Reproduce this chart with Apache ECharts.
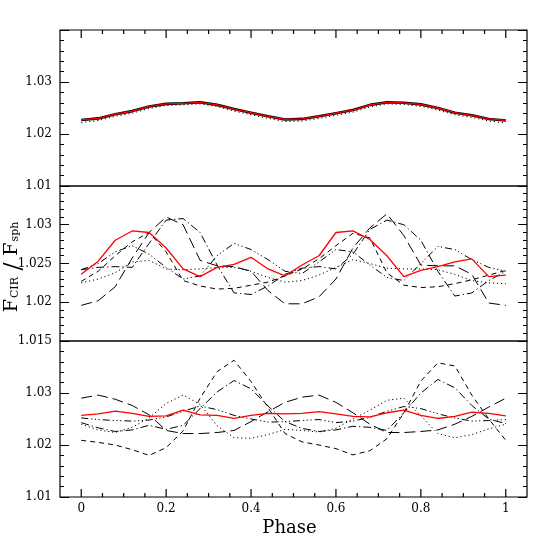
<!DOCTYPE html>
<html>
<head>
<meta charset="utf-8">
<script src="https://cdn.jsdelivr.net/npm/echarts@6/dist/echarts.min.js"></script>
<style>
  html, body { margin: 0; padding: 0; background: #fff; }
  #chart { width: 556px; height: 556px; }
</style>
</head>
<body>
<div id="chart"></div>
<script>
// phase grid shared by every curve
const phase = [0, 0.04, 0.08, 0.12, 0.16, 0.2, 0.24, 0.28, 0.32, 0.36, 0.4, 0.44, 0.48,
  0.52, 0.56, 0.6, 0.64, 0.68, 0.72, 0.76, 0.8, 0.84, 0.88, 0.92, 0.96, 1];

const xMajor = [0, 0.2, 0.4, 0.6, 0.8, 1];
const xMinor = [0.05, 0.1, 0.15, 0.25, 0.3, 0.35, 0.45, 0.5, 0.55, 0.65, 0.7, 0.75, 0.85, 0.9, 0.95];

// top panel
const topSolid = [1.0227, 1.0230, 1.0238, 1.0244, 1.0253, 1.0258, 1.0259, 1.0261, 1.0256, 1.0248, 1.0241, 1.0234, 1.0228,
  1.0229, 1.0234, 1.0240, 1.0246, 1.0256, 1.0261, 1.0260, 1.0257, 1.0250, 1.0241, 1.0236, 1.0229, 1.0226];
const topRed = [1.0227, 1.0230, 1.0238, 1.0244, 1.0253, 1.0258, 1.0259, 1.0261, 1.0256, 1.0248, 1.0241, 1.0234, 1.0228,
  1.0229, 1.0234, 1.0240, 1.0246, 1.0256, 1.0261, 1.0260, 1.0257, 1.0250, 1.0241, 1.0236, 1.0229, 1.0226];
const topDotted = [1.0222, 1.0226, 1.0234, 1.0240, 1.0249, 1.0255, 1.0256, 1.0258, 1.0253, 1.0244, 1.0237, 1.0230, 1.0224,
  1.0225, 1.0230, 1.0236, 1.0242, 1.0252, 1.0258, 1.0257, 1.0253, 1.0246, 1.0237, 1.0232, 1.0225, 1.0221];

// middle panel
const midRed = [1.0236, 1.0253, 1.0280, 1.0292, 1.0290, 1.0270, 1.0243, 1.0233, 1.0245, 1.0249, 1.0258, 1.0243, 1.0234,
  1.0248, 1.0260, 1.0290, 1.0292, 1.0281, 1.0260, 1.0233, 1.0241, 1.0246, 1.0252, 1.0256, 1.0233, 1.0235];
const midLongDash = [1.0196, 1.0202, 1.0220, 1.0257, 1.0290, 1.0310, 1.0300, 1.0254, 1.0247, 1.0246, 1.0240, 1.0215, 1.0198,
  1.0198, 1.0207, 1.0230, 1.0270, 1.0296, 1.0314, 1.0286, 1.0248, 1.0247, 1.0247, 1.0236, 1.0199, 1.0196];
const midDashDot = [1.0242, 1.0245, 1.0246, 1.0245, 1.0276, 1.0306, 1.0308, 1.0290, 1.0248, 1.0212, 1.0210, 1.0221, 1.0236,
  1.0244, 1.0246, 1.0243, 1.0262, 1.0294, 1.0306, 1.0300, 1.0280, 1.0240, 1.0208, 1.0212, 1.0228, 1.0240];
const midDashDot3 = [1.0242, 1.0250, 1.0265, 1.0273, 1.0262, 1.0245, 1.0230, 1.0234, 1.0260, 1.0276, 1.0268, 1.0255, 1.0240,
  1.0237, 1.0252, 1.0268, 1.0265, 1.0248, 1.0232, 1.0228, 1.0250, 1.0272, 1.0268, 1.0255, 1.0245, 1.0240];
const midDash = [1.0227, 1.0240, 1.0260, 1.0278, 1.0290, 1.0265, 1.0228, 1.0221, 1.0217, 1.0218, 1.0222, 1.0226, 1.0234,
  1.0243, 1.0256, 1.0273, 1.0289, 1.0283, 1.0238, 1.0222, 1.0219, 1.0220, 1.0224, 1.0229, 1.0235, 1.0241];
const midDotted = [1.0225, 1.0230, 1.0238, 1.0252, 1.0254, 1.0243, 1.0242, 1.0243, 1.0245, 1.0245, 1.0240, 1.0232, 1.0226,
  1.0228, 1.0235, 1.0245, 1.0255, 1.0250, 1.0244, 1.0243, 1.0243, 1.0242, 1.0236, 1.0228, 1.0225, 1.0224];

// bottom panel
const botRed = [1.0257, 1.0260, 1.0265, 1.0261, 1.0255, 1.0256, 1.0267, 1.0258, 1.0257, 1.0251, 1.0257, 1.0261, 1.0260,
  1.0261, 1.0264, 1.0260, 1.0255, 1.0254, 1.0262, 1.0267, 1.0257, 1.0251, 1.0255, 1.0263, 1.0261, 1.0256];
const botLongDash = [1.0290, 1.0296, 1.0288, 1.0276, 1.0258, 1.0228, 1.0222, 1.0222, 1.0224, 1.0228, 1.0245, 1.0264, 1.0282,
  1.0292, 1.0296, 1.0282, 1.0262, 1.0240, 1.0224, 1.0224, 1.0226, 1.0229, 1.0240, 1.0255, 1.0273, 1.0290];
const botDash = [1.0209, 1.0205, 1.0200, 1.0191, 1.0180, 1.0195, 1.0227, 1.0290, 1.0341, 1.0363, 1.0322, 1.0272, 1.0222,
  1.0206, 1.0200, 1.0193, 1.0181, 1.0189, 1.0212, 1.0262, 1.0323, 1.0358, 1.0352, 1.0296, 1.0250, 1.0209];
const botDashDot = [1.0243, 1.0233, 1.0226, 1.0229, 1.0238, 1.0230, 1.0238, 1.0270, 1.0302, 1.0324, 1.0308, 1.0275, 1.0245,
  1.0232, 1.0226, 1.0229, 1.0236, 1.0234, 1.0228, 1.0262, 1.0300, 1.0326, 1.0310, 1.0276, 1.0250, 1.0241];
const botDotted = [1.0240, 1.0229, 1.0224, 1.0234, 1.0252, 1.0280, 1.0296, 1.0278, 1.0237, 1.0214, 1.0213, 1.0220, 1.0230,
  1.0228, 1.0225, 1.0232, 1.0250, 1.0267, 1.0286, 1.0290, 1.0256, 1.0222, 1.0214, 1.0220, 1.0231, 1.0240];
const botDashDot3 = [1.0252, 1.0249, 1.0247, 1.0246, 1.0248, 1.0254, 1.0265, 1.0275, 1.0268, 1.0257, 1.0250, 1.0244, 1.0245,
  1.0247, 1.0249, 1.0243, 1.0246, 1.0253, 1.0265, 1.0274, 1.0270, 1.0260, 1.0252, 1.0246, 1.0247, 1.0249];

const FONT = 'DejaVu Serif';
const DASH = {
  solid: 'solid',
  dotted: [1.2, 2.8],
  dash: [5, 4],
  longDash: [11, 5],
  dashDot: [8, 3, 1.2, 3],
  dashDot3: [7, 3, 1.2, 2.5, 1.2, 2.5, 1.2, 3]
};

const pts = vals => phase.map((p, i) => [p, vals[i]]);

function line(panel, vals, style, color, width) {
  return {
    type: 'line',
    xAxisIndex: panel,
    yAxisIndex: panel * 2,
    data: pts(vals),
    showSymbol: false,
    silent: true,
    lineStyle: { color: color || '#000', width: width || 1, type: DASH[style] }
  };
}

// phase ticks on the outer frame: thin rect symbols at the panel edge, shifted into the panel
function ticks(panel, values, edge, len) {
  const dir = panel === 0 ? 1 : -1;
  return {
    type: 'scatter',
    xAxisIndex: panel,
    yAxisIndex: panel * 2,
    silent: true,
    clip: false,
    z: 10,
    symbol: 'rect',
    symbolSize: [1.2, len],
    symbolOffset: [0, dir * len / 2],
    itemStyle: { color: '#000', opacity: 1 },
    emphasis: { disabled: true },
    data: values.map(v => [v, edge])
  };
}

// onZero off: the x range crosses 0 and would drag the left axis to phase 0
function yAxis(grid, min, max, interval, pos) {
  return {
    type: 'value', gridIndex: grid, position: pos, min: min, max: max, interval: interval,
    axisLine: { show: false, onZero: false }, splitLine: { show: false },
    axisTick: { inside: true, length: 9, lineStyle: { color: '#000' } },
    minorTick: { show: true, splitNumber: 5, length: 4, lineStyle: { color: '#000' } },
    axisLabel: { show: pos === 'left', margin: 8, fontFamily: FONT, fontSize: 12, color: '#000',
      showMaxLabel: false, formatter: v => String(+v.toFixed(3)) }
  };
}

function xAxis(grid, pos, labels) {
  return {
    type: 'value', gridIndex: grid, position: pos, min: -0.05, max: 1.05, splitNumber: 5,
    axisLine: { show: false, onZero: false }, splitLine: { show: false },
    axisTick: { show: false }, minorTick: { show: false },
    axisLabel: labels
      ? { show: true, margin: 6, fontFamily: FONT, fontSize: 12, color: '#000',
          showMinLabel: false, showMaxLabel: false, formatter: v => String(+v.toFixed(2)) }
      : { show: false }
  };
}

const chart = echarts.init(document.getElementById('chart'));
const border = { show: true, borderColor: '#000', borderWidth: 1.2, left: 60, right: 29 };

const bottomX = xAxis(2, 'bottom', true);
bottomX.name = 'Phase';
bottomX.nameLocation = 'middle';
bottomX.nameGap = 22;
bottomX.nameTextStyle = { fontFamily: FONT, fontSize: 18, color: '#000', padding: [0, 8, 0, 0] };

chart.setOption({
  animation: false,
  backgroundColor: '#fff',
  grid: [
    Object.assign({ top: 30, height: 156 }, border),
    Object.assign({ top: 186, height: 155 }, border),
    Object.assign({ top: 341, height: 156 }, border)
  ],
  xAxis: [
    xAxis(0, 'top', false),
    xAxis(1, 'bottom', false),
    bottomX
  ],
  yAxis: [
    yAxis(0, 1.01, 1.04, 0.01, 'left'),
    yAxis(0, 1.01, 1.04, 0.01, 'right'),
    yAxis(1, 1.015, 1.035, 0.005, 'left'),
    yAxis(1, 1.015, 1.035, 0.005, 'right'),
    yAxis(2, 1.01, 1.04, 0.01, 'left'),
    yAxis(2, 1.01, 1.04, 0.01, 'right')
  ],
  graphic: [{
    type: 'text', x: 12, y: 267, rotation: Math.PI / 2,
    style: {
      text: '{f|F}{s|CIR}  {sl|/}  {f|F}{s|sph}',
      align: 'center', verticalAlign: 'middle', fill: '#000',
      rich: {
        f: { fontFamily: FONT, fontSize: 19, lineHeight: 18, verticalAlign: 'top', padding: [0, 1, 4, 0] },
        s: { fontFamily: FONT, fontSize: 11, lineHeight: 11, verticalAlign: 'bottom' },
        sl: { fontFamily: FONT, fontSize: 24, lineHeight: 18, verticalAlign: 'top' }
      }
    }
  }],
  series: [
    line(0, topSolid, 'solid', '#000', 2.6),
    line(0, topDotted, 'dotted'),
    line(0, topRed, 'solid', '#f00', 1.3),

    line(1, midLongDash, 'longDash'),
    line(1, midDashDot, 'dashDot'),
    line(1, midDashDot3, 'dashDot3'),
    line(1, midDash, 'dash'),
    line(1, midDotted, 'dotted'),
    line(1, midRed, 'solid', '#f00', 1.3),

    line(2, botLongDash, 'longDash'),
    line(2, botDash, 'dash'),
    line(2, botDashDot, 'dashDot'),
    line(2, botDotted, 'dotted'),
    line(2, botDashDot3, 'dashDot3'),
    line(2, botRed, 'solid', '#f00', 1.3),

    ticks(0, xMajor, 1.04, 8),
    ticks(0, xMinor, 1.04, 4),
    ticks(2, xMajor, 1.01, 8),
    ticks(2, xMinor, 1.01, 4)
  ]
});
</script>
</body>
</html>
